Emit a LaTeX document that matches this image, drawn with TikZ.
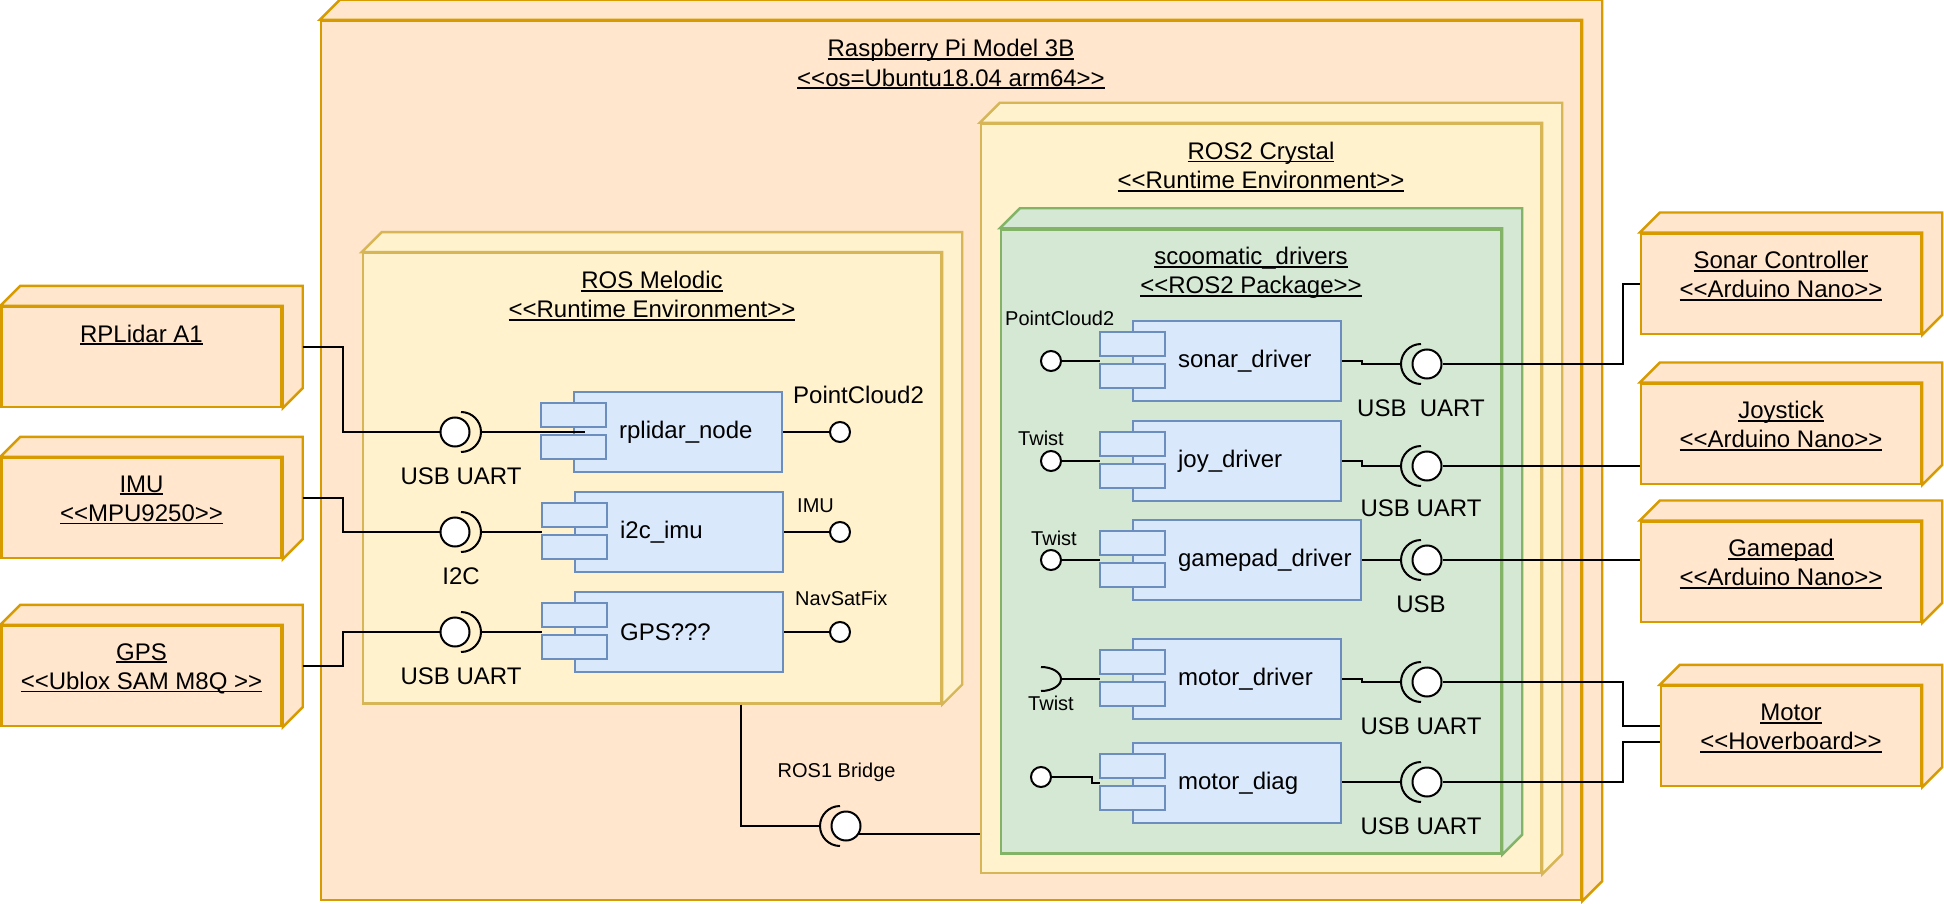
\documentclass[tikz,border=0pt]{standalone}
\usepackage{fontspec}
\setmainfont{Liberation Sans}
\usetikzlibrary{calc}

\definecolor{devfill}{HTML}{FFE6CC}
\definecolor{devline}{HTML}{D79B00}
\definecolor{envfill}{HTML}{FFF2CC}
\definecolor{envline}{HTML}{D6B656}
\definecolor{pkgfill}{HTML}{D5E8D4}
\definecolor{pkgline}{HTML}{82B366}
\definecolor{compfill}{HTML}{DAE8FC}
\definecolor{compline}{HTML}{6C8EBF}

% underlined title line
\newcommand{\ulined}[1]{\setbox0=\hbox{#1}\rlap{\rule[-3pt]{\wd0}{1.8pt}}\box0}
\newcommand{\ltlt}{\textless\kern0pt\textless}
\newcommand{\gtgt}{\textgreater\kern0pt\textgreater}
% top and side face of a node box
\newcommand{\cubeside}[2]{\path[#2] (#1.north west) -- ++(20pt,20pt) -- ([shift={(20pt,20pt)}]#1.north east) -- ([shift={(20pt,20pt)}]#1.south east) -- (#1.south east) -- (#1.north east) -- cycle;}
% the two tabs of a component
\newcommand{\comptabs}[1]{\draw[comptab] ([shift={(-32pt,-12pt)}]#1.north west) rectangle ++(65pt,-24pt);
  \draw[comptab] ([shift={(-32pt,-44pt)}]#1.north west) rectangle ++(65pt,-24pt);}
% socket arcs
\newcommand{\sockR}[1]{\draw[wire] ([shift={(6pt,20pt)}]#1.center) arc[start angle=90,end angle=-90,radius=20pt];}
\newcommand{\sockL}[1]{\draw[wire] ([shift={(-6pt,20pt)}]#1.center) arc[start angle=90,end angle=270,radius=20pt];}

\begin{document}
\begin{tikzpicture}[x=1pt, y=-1pt,
  bigtxt/.style={font=\fontsize{24}{29.3}\selectfont},
  smalltxt/.style={font=\fontsize{20}{24}\selectfont},
  ttl/.style={bigtxt, align=center, inner sep=0, anchor=base},
  lbl/.style={bigtxt, inner sep=0},
  box/.style={inner sep=0, line width=2.4pt},
  dev/.style={box, draw=devline, fill=devfill},
  env/.style={box, draw=envline, fill=envfill},
  pkg/.style={box, draw=pkgline, fill=pkgfill},
  comp/.style={draw=compline, fill=compfill, line width=2.2pt, inner sep=0, minimum width=208pt, minimum height=80pt},
  comptab/.style={draw=compline, fill=compfill, line width=2.2pt},
  wire/.style={draw=black, line width=2pt},
  sockball/.style={circle, inner sep=0, outer sep=1pt, minimum size=29pt},
  lolly/.style={sockball, minimum size=20pt}
  ]

  \path[use as bounding box, fill=white] (0,0) rectangle (1944,904);

  % devices outside the board
  \node[dev, minimum width=280pt, minimum height=100pt] (lidar) at (141.5,357) {};
  \cubeside{lidar}{dev}
  \node[ttl] (lidar-t) at (141.5,342) {\ulined{RPLidar A1}};

  \node[dev, minimum width=280pt, minimum height=100pt] (imu) at (141.5,508) {};
  \cubeside{imu}{dev}
  \node[ttl] (imu-t) at (141.5,521.3) {\ulined{IMU}\\\ulined{\ltlt MPU9250\gtgt}};

  \node[dev, minimum width=280pt, minimum height=100pt] (gps) at (141.5,676) {};
  \cubeside{gps}{dev}
  \node[ttl] (gps-t) at (141.5,689.3) {\ulined{GPS}\\\ulined{\ltlt Ublox SAM M8Q \gtgt}};

  \node[dev, minimum width=280pt, minimum height=100pt] (sonarc) at (1781,283.7) {};
  \cubeside{sonarc}{dev}
  \node[ttl] (sonarc-t) at (1781,297.8) {\ulined{Sonar Controller}\\\ulined{\ltlt Arduino Nano\gtgt}};

  \node[dev, minimum width=280pt, minimum height=100pt] (joystick) at (1781,433.7) {};
  \cubeside{joystick}{dev}
  \node[ttl] (joystick-t) at (1781,447.8) {\ulined{Joystick}\\\ulined{\ltlt Arduino Nano\gtgt}};

  \node[dev, minimum width=280pt, minimum height=100pt] (gamepad) at (1781,571.7) {};
  \cubeside{gamepad}{dev}
  \node[ttl] (gamepad-t) at (1781,585.8) {\ulined{Gamepad}\\\ulined{\ltlt Arduino Nano\gtgt}};

  \node[dev, minimum width=260pt, minimum height=100pt] (motor) at (1791,736) {};
  \cubeside{motor}{dev}
  \node[ttl] (motor-t) at (1791,749.8) {\ulined{Motor}\\\ulined{\ltlt Hoverboard\gtgt}};

  % the board and its runtimes
  \node[dev, minimum width=1260pt, minimum height=879pt] (rpi) at (951,460.5) {};
  \cubeside{rpi}{dev}
  \node[ttl] (rpi-t) at (951,86.3) {\ulined{Raspberry Pi Model 3B}\\\ulined{\ltlt os=Ubuntu18.04 arm64\gtgt}};

  \node[env, minimum width=578pt, minimum height=450pt] (melodic) at (652,478.3) {};
  \cubeside{melodic}{env}
  \node[ttl] (melodic-t) at (652,317.8) {\ulined{ROS Melodic}\\\ulined{\ltlt Runtime Environment\gtgt}};

  \node[env, minimum width=560pt, minimum height=749pt] (crystal) at (1261,498.5) {};
  \cubeside{crystal}{env}
  \node[ttl] (crystal-t) at (1261,188.8) {\ulined{ROS2 Crystal}\\\ulined{\ltlt Runtime Environment\gtgt}};

  \node[pkg, minimum width=500pt, minimum height=624pt] (scoomatic) at (1251,541.5) {};
  \cubeside{scoomatic}{pkg}
  \node[ttl] (scoomatic-t) at (1251,293.8) {\ulined{scoomatic\_drivers}\\\ulined{\ltlt ROS2 Package\gtgt}};

  % components
  \node[comp, label={[lbl, anchor=west, xshift=46pt]west:rplidar\_node}] (rplidarnode) at (678,432) {};
  \node[comp, label={[lbl, anchor=west, xshift=46pt]west:i2c\_imu}] (i2cimu) at (679,532) {};
  \node[comp, label={[lbl, anchor=west, xshift=46pt]west:GPS???}] (gpsnode) at (679,632) {};
  \node[comp, label={[lbl, anchor=west, xshift=46pt]west:sonar\_driver}] (sonardrv) at (1237,361) {};
  \node[comp, label={[lbl, anchor=west, xshift=46pt]west:joy\_driver}] (joydrv) at (1237,461) {};
  \node[comp, minimum width=228pt, label={[lbl, anchor=west, xshift=46pt]west:gamepad\_driver}] (gamepaddrv) at (1247,560) {};
  \node[comp, label={[lbl, anchor=west, xshift=46pt]west:motor\_driver}] (motordrv) at (1237,679) {};
  \node[comp, label={[lbl, anchor=west, xshift=46pt]west:motor\_diag}] (motordiag) at (1237,783) {};
  \comptabs{rplidarnode}
  \comptabs{i2cimu}
  \comptabs{gpsnode}
  \comptabs{sonardrv}
  \comptabs{joydrv}
  \comptabs{gamepaddrv}
  \comptabs{motordrv}
  \comptabs{motordiag}

  % balls and pins
  \node[sockball] (s1) at (455,432) {};
  \node[sockball] (s2) at (455,532) {};
  \node[sockball] (s3) at (455,632) {};
  \node[sockball] (s4) at (1427,364) {};
  \node[sockball] (s5) at (1427,466) {};
  \node[sockball] (s6) at (1427,560) {};
  \node[sockball] (s7) at (1427,682) {};
  \node[sockball] (s8) at (1427,782) {};
  \node[sockball] (s9) at (846,826) {};
  \node[lolly] (p1) at (840,432) {};
  \node[lolly] (p2) at (840,532) {};
  \node[lolly] (p3) at (840,632) {};
  \node[lolly] (p4) at (1051,361) {};
  \node[lolly] (p5) at (1051,461) {};
  \node[lolly] (p6) at (1051,560) {};
  \node[lolly] (p8) at (1041,777) {};
  \coordinate (q7) at (1061,679);

  % wires
  \draw[wire] ([shift={(20pt,10pt)}]lidar.east) -- ++(40pt,0) |- (s1.west);
  \draw[wire] ([shift={(20pt,10pt)}]imu.east) -- ++(40pt,0) |- (s2.west);
  \draw[wire] ([shift={(20pt,10pt)}]gps.east) -- ++(40pt,0) |- (s3.west);
  \draw[wire] ([xshift=26pt]s1.center) -- ([xshift=12pt]rplidarnode.west);
  \draw[wire] ([xshift=26pt]s2.center) -- ([xshift=-32pt]i2cimu.west);
  \draw[wire] ([xshift=26pt]s3.center) -- ([xshift=-32pt]gpsnode.west);
  \draw[wire] (rplidarnode.east) -- (p1.west);
  \draw[wire] (i2cimu.east) -- (p2.west);
  \draw[wire] (gpsnode.east) -- (p3.west);

  \draw[wire] (p4.east) -- ([xshift=-32pt]sonardrv.west);
  \draw[wire] (p5.east) -- ([xshift=-32pt]joydrv.west);
  \draw[wire] (p6.east) -- ([xshift=-32pt]gamepaddrv.west);
  \draw[wire] ([shift={(-20pt,12pt)}]q7) arc[start angle=90,end angle=-90,x radius=20pt,y radius=12pt];
  \draw[wire] (q7) -- ([xshift=-32pt]motordrv.west);
  \draw[wire] (p8.east) -- ++(40pt,0) |- ([xshift=-32pt]motordiag.west);

  \draw[wire] (sonardrv.east) -- ++(20pt,0) |- ([xshift=-26pt]s4.center);
  \draw[wire] (joydrv.east) -- ++(20pt,0) |- ([xshift=-26pt]s5.center);
  \draw[wire] (gamepaddrv.east) -- ([xshift=-26pt]s6.center);
  \draw[wire] (motordrv.east) -- ++(20pt,0) |- ([xshift=-26pt]s7.center);
  \draw[wire] (s8 -| motordiag.east) -- ([xshift=-26pt]s8.center);

  \draw[wire] (s4.east) -- ++(180pt,0) |- (sonarc.west);
  \draw[wire] (s5.east) -- (s5 -| joystick.west);
  \draw[wire] (s6.east) -- (s6 -| gamepad.west);
  \draw[wire] (s7.east) -- ++(180pt,0) |- ([yshift=10pt]motor.west);
  \draw[wire] (s8.east) -- ++(180pt,0) |- ([yshift=-6pt]motor.west);

  \draw[wire] ([xshift=89pt]melodic.south) |- ([xshift=-26pt]s9.center);
  \draw[wire] (s9.-33) -- (s9.-33 -| crystal.west);

  % balls on top of the wires
  \foreach \b in {s1,s2,s3,s4,s5,s6,s7,s8,s9}
    \draw[wire, fill=white] (\b) circle[radius=14.5pt];
  \foreach \b in {p1,p2,p3,p4,p5,p6,p8}
    \draw[wire, fill=white] (\b) circle[radius=10pt];
  \sockR{s1}
  \sockR{s2}
  \sockR{s3}
  \sockL{s4}
  \sockL{s5}
  \sockL{s6}
  \sockL{s7}
  \sockL{s8}
  \sockL{s9}

  % interface labels
  \node[lbl, anchor=base] (u1) at ([shift={(6pt,-52pt)}]s1.center) {USB UART};
  \node[lbl, anchor=base] (u2) at ([shift={(6pt,-52pt)}]s2.center) {I2C};
  \node[lbl, anchor=base] (u3) at ([shift={(6pt,-52pt)}]s3.center) {USB UART};
  \node[lbl, anchor=base] (u4) at ([shift={(-6pt,-52pt)}]s4.center) {USB\ \ UART};
  \node[lbl, anchor=base] (u5) at ([shift={(-6pt,-50pt)}]s5.center) {USB UART};
  \node[lbl, anchor=base] (u6) at ([shift={(-6pt,-52pt)}]s6.center) {USB};
  \node[lbl, anchor=base] (u7) at ([shift={(-6pt,-52pt)}]s7.center) {USB UART};
  \node[lbl, anchor=base] (u8) at ([shift={(-6pt,-52pt)}]s8.center) {USB UART};

  \node[lbl, anchor=base west] (o1) at (793,403) {PointCloud2};
  \node[lbl, smalltxt, anchor=base west] (o2) at (797,512.7) {IMU};
  \node[lbl, smalltxt, anchor=base west] (o3) at (795,605) {NavSatFix};
  \node[lbl, smalltxt, anchor=base west] (i4) at (1005,325) {PointCloud2};
  \node[lbl, smalltxt, anchor=base west] (i5) at (1018,445) {Twist};
  \node[lbl, smalltxt, anchor=base west] (i6) at (1031,545) {Twist};
  \node[lbl, smalltxt, anchor=base west] (i7) at (1028,710.7) {Twist};
  \node[lbl, smalltxt, anchor=base west] (bridge) at (777.5,777.3) {ROS1 Bridge};
\end{tikzpicture}
\end{document}
